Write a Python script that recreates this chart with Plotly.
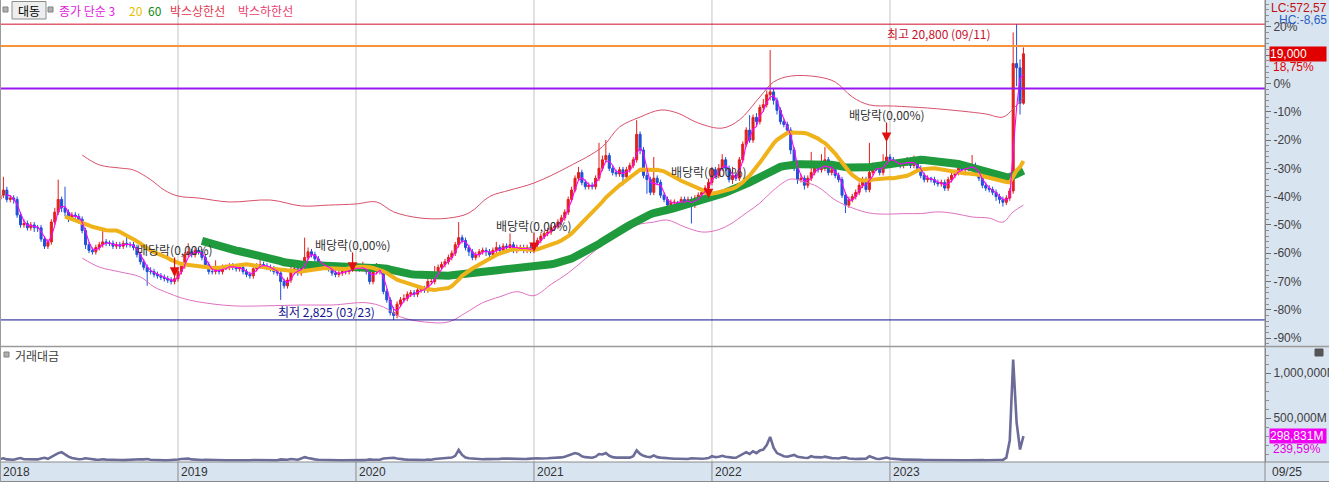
import pandas as pd
import plotly.graph_objects as go

# ---------------- data (weekly, % vs. reference price 17,200) ----------------
REF_PRICE = 17200
WEEKS = pd.date_range("2018-01-01", periods=300, freq="7D")

OPEN = [
    -41, -39.5, -37.7, -41, -40.5, -41, -46.5, -50, -49.5, -51,
    -50, -51, -51, -55, -57.5, -56, -49, -45.5, -41, -44,
    -45.5, -47.5, -46.5, -47, -48, -52, -57, -59, -59.5, -58,
    -57, -56, -56.5, -56.5, -57.5, -57, -57.5, -56.5, -57, -57,
    -58, -60.5, -63, -65, -66.5, -66.5, -67.5, -68, -68.5, -69,
    -69.5, -70, -69, -66.5, -64.5, -60.5, -59.5, -60.5, -59, -59.5,
    -61.5, -64, -66.5, -66.5, -65.5, -66.5, -65, -65, -64.5, -65,
    -65.5, -65, -66.5, -67.5, -68, -65.5, -64.5, -64, -64.5, -65,
    -65.5, -66.5, -67, -70, -71.5, -69.5, -66.5, -65.5, -67, -65,
    -61.5, -59.5, -60.5, -62, -64, -64.5, -64.5, -65.5, -67, -67.5,
    -67, -66.5, -66.5, -65.5, -65.5, -65, -65.5, -65, -66.5, -70,
    -66.5, -65, -66.5, -73.5, -76.5, -81, -82, -78, -76.5, -76,
    -74.5, -74, -74.5, -73, -72.5, -73, -70, -70, -67.5, -65,
    -64, -63, -61.5, -60, -57, -54.5, -55.5, -58, -59.5, -61.5,
    -60.5, -59.5, -59, -59.5, -60.5, -59, -58, -59, -57.5, -58,
    -57, -59, -58, -58, -59, -58, -59, -57, -55.5, -54,
    -53, -52.5, -51, -50.5, -49, -47.5, -45.5, -41, -37.7, -33.5,
    -31.5, -35, -36.5, -36, -36.5, -33.5, -30, -27, -25.5, -30,
    -31.5, -32, -30.5, -33, -30.5, -29, -27, -18, -23.5, -32.5,
    -34, -38.5, -33.5, -35, -39.5, -41, -43, -42, -42, -42.5,
    -41, -42.5, -41, -43, -40.5, -39.5, -38.5, -37, -35, -30.5,
    -32.5, -30, -27, -30, -34, -32.5, -33.5, -27, -21.5, -16.5,
    -20, -12, -13.5, -8.5, -7.5, -4, -3, -6, -9.5, -13.5,
    -14.5, -16.5, -23.5, -30, -34, -33.5, -36, -33.5, -31.5, -29,
    -30.5, -30, -27, -31.5, -30.5, -32.5, -34, -39.5, -43, -41,
    -40, -38.5, -36, -34, -37.5, -31.5, -29, -30, -31.5, -28,
    -26, -27, -28.5, -28, -29, -28, -27, -29, -28, -30,
    -32.5, -34, -33.5, -34, -35, -35.5, -35, -37, -34, -32.5,
    -31.5, -30, -30.5, -30, -29.5, -29, -31.5, -33.5, -36, -37,
    -37.5, -38.5, -40, -41, -42, -40.5, -38, 7, 5.5, -7,
]
HIGH = [
    -38, -33, -36.5, -39.5, -39.5, -40, -45.5, -48, -48.5, -49,
    -49, -50, -50, -54, -55, -48, -44, -34, -40, -36.5,
    -44.5, -45.5, -45.5, -46, -47, -51, -56, -58, -57, -56,
    -51, -55, -55.5, -55.5, -56, -56, -55.5, -54, -56, -56,
    -57, -59.5, -62, -64, -65, -65.5, -66.5, -67, -67.5, -68,
    -68.5, -68, -65.5, -63.5, -59.5, -56.5, -58.5, -58, -58, -58.5,
    -60.5, -63, -65.5, -62.5, -64.5, -64, -64, -63.5, -63.5, -64,
    -64, -64, -65.5, -66.5, -64.5, -63.5, -61.5, -63, -63.5, -64,
    -64.5, -65.5, -66, -69, -68.5, -64, -64.5, -64.5, -64, -54.5,
    -58, -58.5, -59.5, -61, -63, -63.5, -63.5, -64.5, -66, -66,
    -65.5, -65.5, -64.5, -64.5, -64, -64, -63, -64, -65.5, -65.5,
    -63.5, -64, -65.5, -72.5, -75.5, -79, -77, -75.5, -74.5, -73.5,
    -73, -73, -72, -71.5, -71.5, -69, -69, -64.5, -64, -63,
    -62, -60.5, -59, -56, -49, -53.5, -54.5, -57, -58.5, -59.5,
    -58.5, -58, -58, -58.5, -58, -56, -57, -56.5, -56.5, -53,
    -56, -57, -57, -57, -57, -57, -56, -54.5, -53, -52,
    -51, -50, -49.5, -48, -46.5, -44.5, -40, -36.5, -32.5, -29.5,
    -30.5, -34, -35, -35, -32.5, -21, -25.5, -20, -24.5, -29,
    -30.5, -29.5, -29.5, -29.5, -28, -26, -13, -17, -22.5, -31,
    -33, -26, -32.5, -34, -38.5, -40, -41, -41, -41.5, -40,
    -40, -40, -40, -39.5, -38.5, -37.5, -36, -34, -29.5, -29.5,
    -28.5, -25, -26, -29, -29.5, -31.5, -26, -20.5, -15.5, -11.2,
    -11, -10.5, -7.5, -5.5, -2.5, 11.8, -2, -5, -8.5, -12.5,
    -13.5, -15.5, -22.5, -29, -32, -32.5, -32.5, -24.2, -28, -28,
    -25, -22.5, -26, -29.5, -29.5, -31.5, -33, -38.5, -40, -39,
    -37.5, -35, -33, -33, -21, -28, -28, -29, -25, -19,
    -25, -26, -27, -27, -27, -26, -26, -25.5, -27, -29,
    -31.5, -32.5, -33, -33, -34, -34, -34, -33, -31.5, -30.5,
    -29, -29, -29, -28.5, -25.3, -28, -30.5, -32.5, -35, -36,
    -36.5, -37.5, -39, -40, -39.5, -37, 18, 20.93, 8.5, 12.7,
]
LOW = [
    -42, -40.5, -42, -42, -42.5, -47.5, -51, -51, -52, -52,
    -52.5, -52.5, -56, -58.5, -58.5, -57, -50, -46.5, -45.5, -47,
    -49, -48.5, -48, -49.5, -53, -58.5, -60, -60.5, -60.5, -59,
    -58, -57.5, -57.5, -58.5, -58.5, -58.5, -58.5, -58, -58, -59,
    -61.5, -64, -66, -71.5, -67.5, -68.5, -69, -69.5, -70, -70.5,
    -71, -71, -70, -67.5, -65.5, -61.5, -61.5, -61.5, -60.5, -62.5,
    -65, -67.5, -67.5, -67.5, -67.5, -67.5, -66, -66, -66, -66.5,
    -66.5, -67.5, -68.5, -69, -69, -66.5, -65.5, -65.5, -66, -66.5,
    -67.5, -68, -76.5, -72.5, -72.5, -70.5, -67.5, -68, -68, -66,
    -62.5, -61.5, -63, -65, -65.5, -65.5, -66.5, -68, -68.5, -68.5,
    -68, -67.5, -67.5, -66.5, -66.5, -66.5, -66.5, -67.5, -71, -71,
    -67.5, -67.5, -74.5, -77.5, -82, -83.58, -83, -79, -77.5, -77,
    -75.5, -75.5, -75.5, -74, -74, -74, -71, -71, -68.5, -66,
    -65, -64, -62.5, -61, -58, -56.5, -59, -61, -62.5, -62.5,
    -61.5, -60.5, -61, -61.5, -61.5, -60, -60, -60, -59, -59,
    -60, -60, -59, -60, -60, -60, -60, -58, -56.5, -55,
    -54, -53.5, -52, -51.5, -50, -48.5, -46.5, -42, -38.5, -34.5,
    -36, -37.5, -37.5, -37.5, -37.5, -34.5, -31, -28, -31, -32.5,
    -33, -33, -36, -34, -31.5, -30, -28, -25, -33.5, -39,
    -39.5, -39.5, -36, -40.5, -42, -46, -44, -43, -43.5, -43.5,
    -43.5, -43.5, -49.5, -44, -41.5, -40.5, -39.5, -38, -36, -33.5,
    -33.5, -31, -31, -35, -35.5, -34.5, -34.5, -28, -22.5, -21,
    -21, -15, -14.5, -10, -8.5, -6, -7.5, -11, -14.5, -15.5,
    -18, -25, -31, -35.5, -35, -37.5, -37, -34.5, -32.5, -31.5,
    -31.5, -31, -32.5, -32.5, -33.5, -35, -40.5, -45.8, -44, -42,
    -41, -39.5, -37, -38.5, -38.5, -32.5, -31, -32.5, -32.5, -29,
    -28, -29.5, -29.5, -30, -30, -29, -30, -30, -31, -33.5,
    -35, -35, -35, -36, -36.5, -36.5, -38, -38, -35, -33.5,
    -32.5, -31.5, -31.5, -31, -30.5, -32.5, -34.5, -37, -38, -38.5,
    -39.5, -41.5, -42.5, -43.5, -43, -41.5, -39, -1, -11, -7.5,
]
CLOSE = [
    -39.5, -37.7, -41, -40.5, -41, -46.5, -50, -49.5, -51, -50,
    -51, -51, -55, -57.5, -56, -49, -45.5, -41, -44, -45.5,
    -47.5, -46.5, -47, -48, -52, -57, -59, -59.5, -58, -57,
    -56, -56.5, -56.5, -57.5, -57, -57.5, -56.5, -57, -57, -58,
    -60.5, -63, -65, -66.5, -66.5, -67.5, -68, -68.5, -69, -69.5,
    -70, -69, -66.5, -64.5, -60.5, -59.5, -60.5, -59, -59.5, -61.5,
    -64, -66.5, -66.5, -65.5, -66.5, -65, -65, -64.5, -65, -65.5,
    -65, -66.5, -67.5, -68, -65.5, -64.5, -64, -64.5, -65, -65.5,
    -66.5, -67, -70, -71.5, -69.5, -66.5, -65.5, -67, -65, -61.5,
    -59.5, -60.5, -62, -64, -64.5, -64.5, -65.5, -67, -67.5, -67,
    -66.5, -66.5, -65.5, -65.5, -65, -65.5, -65, -66.5, -70, -66.5,
    -65, -66.5, -73.5, -76.5, -81, -82, -78, -76.5, -76, -74.5,
    -74, -74.5, -73, -72.5, -73, -70, -70, -67.5, -65, -64,
    -63, -61.5, -60, -57, -54.5, -55.5, -58, -59.5, -61.5, -60.5,
    -59.5, -59, -59.5, -60.5, -59, -58, -59, -57.5, -58, -57,
    -59, -58, -58, -59, -58, -59, -57, -55.5, -54, -53,
    -52.5, -51, -50.5, -49, -47.5, -45.5, -41, -37.7, -33.5, -31.5,
    -35, -36.5, -36, -36.5, -33.5, -30, -27, -25.5, -30, -31.5,
    -32, -30.5, -33, -30.5, -29, -27, -18, -23.5, -32.5, -34,
    -38.5, -33.5, -35, -39.5, -41, -43, -42, -42, -42.5, -41,
    -42.5, -41, -43, -40.5, -39.5, -38.5, -37, -35, -30.5, -32.5,
    -30, -27, -30, -34, -32.5, -33.5, -27, -21.5, -16.5, -20,
    -12, -13.5, -8.5, -7.5, -4, -3, -6, -9.5, -13.5, -14.5,
    -16.5, -23.5, -30, -34, -33.5, -36, -33.5, -31.5, -29, -30.5,
    -30, -27, -31.5, -30.5, -32.5, -34, -39.5, -43, -41, -40,
    -38.5, -36, -34, -37.5, -31.5, -29, -30, -31.5, -28, -26,
    -27, -28.5, -28, -29, -28, -27, -29, -28, -30, -32.5,
    -34, -33.5, -34, -35, -35.5, -35, -37, -34, -32.5, -31.5,
    -30, -30.5, -30, -29.5, -29, -31.5, -33.5, -36, -37, -37.5,
    -38.5, -40, -41, -42, -40.5, -38, 7, 5.5, -7, 10.47,
]
# weekly trading value (거래대금), million KRW
TRADE_VALUE = [
    45000, 52000, 40000, 38000, 36000, 48000, 55000, 42000, 40000, 38000,
    36000, 40000, 50000, 58000, 46000, 70000, 85000, 110000, 120000, 90000,
    70000, 55000, 45000, 42000, 45000, 52000, 48000, 40000, 38000, 36000,
    42000, 38000, 35000, 34000, 33000, 34000, 32000, 35000, 33000, 34000,
    40000, 42000, 40000, 45000, 36000, 33000, 32000, 31000, 30000, 30000,
    30000, 32000, 38000, 45000, 50000, 48000, 40000, 36000, 34000, 33000,
    36000, 34000, 32000, 35000, 32000, 31000, 30000, 31000, 30000, 30000,
    30000, 31000, 30000, 30000, 34000, 33000, 35000, 32000, 31000, 30000,
    31000, 30000, 40000, 38000, 36000, 45000, 40000, 36000, 50000, 65000,
    55000, 45000, 40000, 36000, 34000, 33000, 32000, 31000, 30000, 30000,
    31000, 30000, 32000, 31000, 32000, 31000, 32000, 33000, 40000, 36000,
    34000, 36000, 50000, 55000, 60000, 58000, 50000, 42000, 40000, 38000,
    36000, 35000, 34000, 35000, 34000, 38000, 36000, 45000, 48000, 46000,
    50000, 55000, 60000, 80000, 145000, 90000, 60000, 52000, 48000, 45000,
    44000, 42000, 43000, 42000, 44000, 48000, 46000, 50000, 48000, 52000,
    46000, 45000, 44000, 45000, 46000, 48000, 55000, 52000, 50000, 55000,
    52000, 55000, 56000, 58000, 62000, 70000, 85000, 95000, 110000, 100000,
    75000, 65000, 60000, 58000, 70000, 100000, 95000, 110000, 80000, 65000,
    60000, 62000, 60000, 58000, 60000, 75000, 140000, 100000, 80000, 70000,
    65000, 85000, 65000, 60000, 55000, 55000, 50000, 48000, 47000, 46000,
    46000, 45000, 52000, 48000, 47000, 48000, 50000, 55000, 75000, 65000,
    70000, 80000, 70000, 62000, 60000, 58000, 80000, 100000, 120000, 100000,
    130000, 110000, 140000, 150000, 200000, 290000, 170000, 110000, 90000, 75000,
    70000, 80000, 90000, 70000, 60000, 58000, 56000, 75000, 65000, 60000,
    62000, 70000, 58000, 54000, 52000, 50000, 60000, 62000, 50000, 45000,
    44000, 46000, 45000, 47000, 75000, 60000, 48000, 44000, 50000, 60000,
    50000, 45000, 42000, 40000, 38000, 37000, 38000, 40000, 36000, 35000,
    34000, 33000, 32000, 32000, 31000, 30000, 32000, 34000, 33000, 32000,
    31000, 30000, 30000, 31000, 33000, 32000, 31000, 32000, 31000, 30000,
    31000, 33000, 34000, 35000, 60000, 250000, 1150000, 450000, 150000, 298831,
]
# channel lines (week index, %)
UPPER_WK = [24, 29, 35, 39, 44, 48, 52, 58, 67, 79, 88, 96, 104, 110, 115, 123, 131, 137,
            143, 149, 156, 166, 176, 181, 187, 193, 198, 204, 211, 216, 222, 226, 231, 239,
            244, 249, 254, 261, 271, 281, 288, 293, 296, 299]
UPPER_PCT = [-25.3, -28.8, -29.9, -30.6, -34, -37.7, -39.8, -40.5, -41.9, -41.2, -43.3, -43,
             -42.6, -41.9, -45.4, -47.6, -47.6, -45.8, -40, -37.7, -35.2, -29.5, -22.4, -15.4,
             -11.9, -9.4, -10.5, -14, -15.8, -12.9, -4.8, 0.5, 2.6, 2.3, 0.5, -4.8, -7.6, -8,
             -8.7, -9.8, -10.8, -11.9, -9, -5]
LOWER_WK = [24, 29, 35, 41, 45, 49, 53, 58, 68, 78, 88, 97, 107, 112, 117, 124, 131, 136,
            141, 146, 151, 156, 161, 166, 171, 176, 181, 186, 191, 195, 200, 205, 209, 213,
            218, 222, 226, 231, 235, 239, 244, 249, 254, 259, 264, 269, 274, 279, 284, 289,
            293, 296, 299]
LOWER_PCT = [-61.7, -64.9, -66.6, -68.4, -71.9, -74, -75.8, -77.2, -78.6, -78.6, -78.3, -78.3,
             -77.5, -79, -82.5, -84.3, -84.3, -81.1, -77.5, -75.4, -73.6, -75, -71, -67, -62,
             -57, -53, -50, -49, -48.3, -50.7, -52.5, -52, -50, -45.8, -42.3, -37.7, -33.8,
             -34.8, -36.6, -41.2, -44, -45.8, -46.2, -46, -46, -45.4, -46, -47.2, -47.6, -49,
             -45.4, -43]
EX_DIV_WK = [51, 103, 156, 207, 259]
EX_DIV_TIP = [-68.4, -66.6, -59.6, -40.6, -20.7]
HLINES = {"high": 20.93, "box_top": 13.2, "box_mid": -1.8, "low": -83.58}
Y_TICKS = [-90, -80, -70, -60, -50, -40, -30, -20, -10, 0, 10, 20]
Y_TICKTEXT = ["-90%", "-80%", "-70%", "-60%", "-50%", "-40%", "-30%", "-20%", "-10%", "0%", "", "20%"]
YEAR_WK = [0, 52, 104, 156, 208, 260]
YEAR_LBL = ["2018", "2019", "2020", "2021", "2022", "2023"]

# ---------------- derived indicators ----------------
close_s = pd.Series(CLOSE, index=WEEKS)
ma3 = close_s.rolling(3).mean()
ma20 = close_s.rolling(20).mean()
ma60 = close_s.rolling(60).mean()

# ---------------- figure geometry helpers (pixels -> paper) ----------------
PW, PH = 1265.0, 462.0
def px(x):
    return x / PW
def py(y):
    return (PH - y) / PH

AXIS_BG = "#d9e4f1"
GRID = "#c4c4c4"
NUMFONT = "Liberation Sans Narrow, Liberation Sans, Arial, sans-serif"
KR = "Noto Sans CJK KR, sans-serif"

fig = go.Figure()

fig.add_trace(go.Scatter(x=[WEEKS[w] for w in UPPER_WK], y=UPPER_PCT, mode="lines",
                         line=dict(color="#d9506a", width=1, shape="spline"), hoverinfo="skip"))
fig.add_trace(go.Scatter(x=[WEEKS[w] for w in LOWER_WK], y=LOWER_PCT, mode="lines",
                         line=dict(color="#e070c0", width=1, shape="spline"), hoverinfo="skip"))
fig.add_trace(go.Scatter(x=WEEKS, y=ma60, mode="lines",
                         line=dict(color="#1f9a3c", width=8)))
fig.add_trace(go.Scatter(x=WEEKS, y=ma20, mode="lines",
                         line=dict(color="#f0b21a", width=4)))
fig.add_trace(go.Scatter(x=WEEKS, y=ma3, mode="lines",
                         line=dict(color="#ff00ff", width=1.1)))
fig.add_trace(go.Candlestick(
    x=WEEKS, open=OPEN, high=HIGH, low=LOW, close=CLOSE,
    increasing=dict(line=dict(color="#e0201c", width=1), fillcolor="#e0201c"),
    decreasing=dict(line=dict(color="#2050d8", width=1), fillcolor="#2050d8"),
    whiskerwidth=0,
))
fig.add_trace(go.Scatter(x=WEEKS, y=TRADE_VALUE, mode="lines", yaxis="y2",
                         line=dict(color="#6c6c98", width=2.6)))

shapes = []
# axis backgrounds
shapes.append(dict(type="rect", xref="paper", yref="paper", x0=1, x1=px(1329), y0=py(482), y1=1,
                   fillcolor=AXIS_BG, line=dict(width=0), layer="below"))
shapes.append(dict(type="rect", xref="paper", yref="paper", x0=0, x1=1, y0=py(482), y1=0,
                   fillcolor=AXIS_BG, line=dict(width=0), layer="below"))
# year grid lines
for w in YEAR_WK[1:]:
    shapes.append(dict(type="line", xref="x", yref="paper", x0=WEEKS[w], x1=WEEKS[w], y0=0, y1=1,
                       line=dict(color=GRID, width=1), layer="below"))
    shapes.append(dict(type="line", xref="x", yref="paper", x0=WEEKS[w], x1=WEEKS[w], y0=py(481), y1=0,
                       line=dict(color="#8a8a8a", width=1)))
# horizontal price lines
for key, col, wd in [("high", "#d0102c", 1), ("box_top", "#f7943a", 2), ("box_mid", "#9a18f0", 2),
                     ("low", "#10108e", 1)]:
    shapes.append(dict(type="line", xref="paper", yref="y", x0=0, x1=1, y0=HLINES[key], y1=HLINES[key],
                       line=dict(color=col, width=wd)))
# frame lines
shapes.append(dict(type="line", xref="paper", yref="paper", x0=0, x1=px(1329), y0=py(346.5), y1=py(346.5),
                   line=dict(color="#9a9a9a", width=1.5)))
shapes.append(dict(type="line", xref="paper", yref="paper", x0=0, x1=px(1329), y0=0, y1=0,
                   line=dict(color="#8a8a8a", width=1)))
shapes.append(dict(type="line", xref="paper", yref="paper", x0=0, x1=px(1329), y0=py(481.5), y1=py(481.5),
                   line=dict(color="#8a8a8a", width=1)))
shapes.append(dict(type="line", xref="paper", yref="paper", x0=1, x1=1, y0=py(482), y1=1,
                   line=dict(color="#8a8a8a", width=1)))
shapes.append(dict(type="line", xref="paper", yref="paper", x0=px(0.5), x1=px(0.5), y0=py(482), y1=1,
                   line=dict(color="#9a9a9a", width=1)))
# legend row widgets
shapes.append(dict(type="rect", xref="paper", yref="paper", x0=px(3), x1=px(8), y0=py(12), y1=py(7),
                   fillcolor="#b0b0b0", line=dict(color="#808080", width=1)))
shapes.append(dict(type="rect", xref="paper", yref="paper", x0=px(12), x1=px(46), y0=py(19), y1=py(1.5),
                   fillcolor="#eeeeee", line=dict(color="#8c8c8c", width=1)))
shapes.append(dict(type="rect", xref="paper", yref="paper", x0=px(48), x1=px(53), y0=py(12), y1=py(7),
                   fillcolor="#b0b0b0", line=dict(color="#808080", width=1)))
shapes.append(dict(type="rect", xref="paper", yref="paper", x0=px(4), x1=px(9), y0=py(357), y1=py(352),
                   fillcolor="#b0b0b0", line=dict(color="#808080", width=1)))
shapes.append(dict(type="rect", xref="paper", yref="paper", x0=px(1315), x1=px(1323), y0=py(356), y1=py(349),
                   fillcolor="#555555", line=dict(color="#555555", width=1)))

ann = []
def A(**k):
    k.setdefault("xanchor", "center")
    k.setdefault("yanchor", "middle")
    ann.append(k)

# legend row
A(x=px(29), y=py(10), xref="paper", yref="paper", text="대동", showarrow=False,
  font=dict(family=KR, size=12, color="#000000"))
legend_items = [(57, "종가 단순 3", "#e020e0"), (127, "20", "#e8c000"), (146, "60", "#108a10"),
                (168, "박스상한선", "#e0384e"), (236, "박스하한선", "#e8406e")]
for x0, t, c in legend_items:
    A(x=px(x0), y=py(10), xref="paper", yref="paper", text=t, showarrow=False, xanchor="left",
      font=dict(family=KR, size=12, color=c))
A(x=px(13), y=py(355), xref="paper", yref="paper", text="거래대금", showarrow=False, xanchor="left",
  font=dict(family=KR, size=12, color="#404040"))

# ex-dividend markers
for w, tip in zip(EX_DIV_WK, EX_DIV_TIP):
    ann.append(dict(x=WEEKS[w], y=tip, xref="x", yref="y", text="", showarrow=True, arrowhead=2,
                    arrowsize=1.6, arrowwidth=1.2, arrowcolor="#e01010", ax=0, ay=-21))
    A(x=WEEKS[w], y=tip, xref="x", yref="y", text="배당락(0,00%)", showarrow=False, yshift=27,
      font=dict(family=KR, size=12, color="#333333"))

# high / low notes
A(x=WEEKS[290], y=HLINES["high"], xref="x", yref="y", text="최고 20,800 (09/11)", showarrow=False,
  xanchor="right", yshift=-9, font=dict(family=KR, size=12, color="#c8102c"))
A(x=WEEKS[110], y=HLINES["low"], xref="x", yref="y", text="최저 2,825 (03/23)", showarrow=False,
  xanchor="right", yshift=8, font=dict(family=KR, size=12, color="#10108e"))

# x labels
for w, t in zip(YEAR_WK, YEAR_LBL):
    A(x=WEEKS[w], y=py(472), xref="x", yref="paper", text=t, showarrow=False, xanchor="left", xshift=1,
      font=dict(family=NUMFONT, size=12, color="#333333"))
A(x=px(1270), y=py(472), xref="paper", yref="paper", text="09/25", showarrow=False, xanchor="left",
  font=dict(family=NUMFONT, size=12, color="#333333"))

# right-side value boxes
A(x=px(1328), y=py(8), xref="paper", yref="paper", text="LC:572,57", showarrow=False, xanchor="right",
  bgcolor=AXIS_BG, font=dict(family=NUMFONT, size=12, color="#c01010"), borderpad=0)
A(x=px(1328), y=py(20), xref="paper", yref="paper", text="HC:-8,65", showarrow=False, xanchor="right",
  font=dict(family=NUMFONT, size=12, color="#2a5fc0"), borderpad=0)
A(x=px(1269), y=CLOSE[-1], xref="paper", yref="y", text="19,000", showarrow=False, xanchor="left",
  bgcolor="#e00000", width=56, align="left", borderpad=0,
  font=dict(family=NUMFONT, size=12, color="#ffffff"))
A(x=px(1271), y=CLOSE[-1], xref="paper", yref="y", text="18,75%", showarrow=False, xanchor="left",
  yshift=-13, font=dict(family=NUMFONT, size=12, color="#e00000"))
A(x=px(1269), y=TRADE_VALUE[-1], xref="paper", yref="y2", text="298,831M", showarrow=False,
  xanchor="left", bgcolor="#f000f0", width=56, align="left", borderpad=0,
  font=dict(family=NUMFONT, size=12, color="#ffffff"))
A(x=px(1271), y=TRADE_VALUE[-1], xref="paper", yref="y2", text="239,59%", showarrow=False,
  xanchor="left", yshift=-13, font=dict(family=NUMFONT, size=12, color="#e000e0"))

y_top = 83.4 / 2.83
y_bot = (83.4 - 346) / 2.83
v_per_px = 1000000 / 90.0

fig.update_layout(
    width=1329, height=482,
    margin=dict(l=0, r=64, t=0, b=20, autoexpand=False),
    paper_bgcolor="#ffffff", plot_bgcolor="#ffffff",
    showlegend=False, boxgap=0.15,
    shapes=shapes, annotations=ann,
    xaxis=dict(type="date", range=["2018-01-01", "2025-01-31"], domain=[0, 1], anchor="y2",
               showgrid=False, showticklabels=False, zeroline=False, showline=False,
               rangeslider=dict(visible=False), ticks="", automargin=False),
    yaxis=dict(domain=[py(346), 1], range=[y_bot, y_top], side="right", anchor="x",
               tickmode="array", tickvals=Y_TICKS, ticktext=Y_TICKTEXT, automargin=False,
               ticks="outside", ticklen=5, tickcolor="#707070", showline=True, linecolor="#8a8a8a",
               showgrid=False, zeroline=False,
               tickfont=dict(family=NUMFONT, size=12, color="#404040"),
               minor=dict(tickmode="linear", tick0=0, dtick=2, ticks="outside", ticklen=3,
                          tickcolor="#909090", showgrid=False)),
    yaxis2=dict(domain=[0, py(348)], range=[(463 - 462) * v_per_px, (463 - 348) * v_per_px],
                side="right", anchor="x", automargin=False,
                tickmode="array", tickvals=[500000, 1000000], ticktext=["500,000M", "1,000,000M"],
                ticks="outside", ticklen=5, tickcolor="#707070", showline=True, linecolor="#8a8a8a",
                showgrid=False, zeroline=False,
                tickfont=dict(family=NUMFONT, size=12, color="#404040"),
                minor=dict(tickmode="linear", tick0=0, dtick=100000, ticks="outside", ticklen=3,
                           tickcolor="#909090", showgrid=False)),
)

fig.write_html("out.html", config={"displayModeBar": False},
               post_script="document.body.style.margin='0px';document.body.style.overflow='hidden';")
